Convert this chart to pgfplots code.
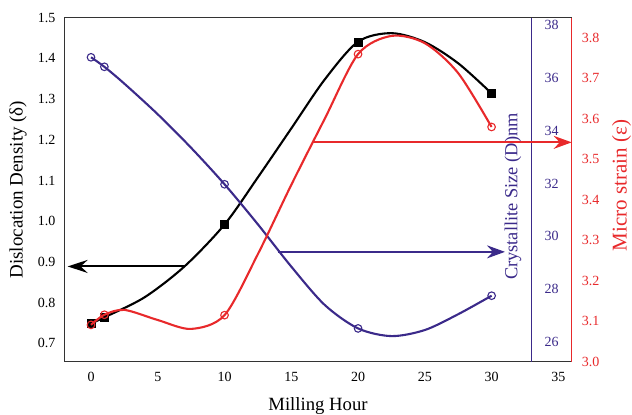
\documentclass[border=0pt]{standalone}
\usepackage{pgfplots}
\pgfplotsset{compat=1.18}
\usepackage{fontspec}
\setmainfont{Liberation Serif}
\usetikzlibrary{arrows.meta}
\definecolor{cblue}{HTML}{3B2A8A}
\definecolor{cred}{HTML}{E8292B}
\pgfplotsset{
  base/.style={
    scale only axis, width=507.4pt, height=344pt,
    xmin=-2, xmax=36, clip=false,
    major tick length=0pt, minor tick length=0pt,
    /pgf/number format/assume math mode=true,
    /pgf/number format/fixed, /pgf/number format/fixed zerofill,
    tick label style={font=\fontsize{14}{14}\selectfont},
  }
}
\begin{document}
\begin{tikzpicture}
\useasboundingbox (-64.3pt,-53.3pt) rectangle (567.7pt,361.7pt);
% ---------- left axis: dislocation density
\begin{axis}[base,
  ymin=0.655, ymax=1.5,
  axis line style={black!80, line width=1.2pt},
  xtick={0,5,...,35},
  xticklabel style={anchor=center, yshift=-15pt},
  xticklabel={\pgfmathprintnumber[fixed,precision=0]{\tick}},
  ytick={0.7,0.8,...,1.51},
  yticklabel style={anchor=center, xshift=-17.6pt, /pgf/number format/precision=1},
  xlabel={Milling Hour},
  xlabel style={at={(axis description cs:0.5,-0.129)}, anchor=center, font=\fontsize{18.7}{19}\selectfont},
  ylabel={Dislocation Density (δ)},
  ylabel style={at={(axis description cs:-0.0912,0.5)}, anchor=center, font=\fontsize{19}{19}\selectfont},
]
\addplot[black, line width=2.1pt, smooth, tension=0.5] coordinates {
  (0,0.749) (1,0.764) (4,0.813) (7,0.889) (10,0.992) (12.5,1.108) (15,1.228)
  (17.5,1.348) (20,1.441) (22.5,1.462) (25,1.440) (27.5,1.388) (30,1.314)};
\addplot[only marks, mark=square*, mark size=4pt, black] coordinates {
  (0,0.749) (1,0.764) (10,0.992) (20,1.441) (30,1.314)};
\addplot[black, line width=2pt, -{Stealth[length=20pt,width=13pt,inset=7pt]}] coordinates {
  (7,0.889) (-1.75,0.889)};
\end{axis}
% ---------- crystallite size axis
\begin{axis}[base,
  width=467.4pt, xmax=33,
  ymin=25.25, ymax=38.28,
  axis x line=none, axis y line*=right,
  axis line style={cblue, line width=1.4pt},
  ytick={26,28,...,38},
  yticklabel style={anchor=center, xshift=20pt, text=cblue, /pgf/number format/precision=0, /pgf/number format/fixed zerofill=false},
  ylabel={Crystallite Size (D)nm},
  ylabel style={at={(axis description cs:0.96,0.48)}, anchor=center, text=cblue, font=\fontsize{18.4}{18}\selectfont},
]
\addplot[cblue, line width=2.1pt, smooth, tension=0.5] coordinates {
  (0,36.78) (1,36.42) (2.5,35.78) (5,34.62) (7.5,33.35) (10,31.97) (12.5,30.45)
  (15,28.85) (17.5,27.40) (20,26.51) (22.5,26.22) (25,26.45) (27.5,27.05) (30,27.75)};
\addplot[only marks, mark=o, mark size=3.8pt, cblue, line width=1.1pt, mark options={fill=white}] coordinates {
  (0,36.78) (1,36.42) (10,31.97) (20,26.51) (30,27.75)};
\addplot[cblue, line width=2pt, -{Stealth[length=18pt,width=13pt,inset=6pt]}] coordinates {
  (14,29.41) (31,29.41)};
\end{axis}
% ---------- micro strain axis
\begin{axis}[base,
  ymin=3.0, ymax=3.850,
  axis x line=none, axis y line*=right,
  axis line style={cred, line width=1.4pt},
  ytick={3.0,3.1,...,3.81},
  yticklabel style={anchor=center, xshift=19pt, text=cred, /pgf/number format/precision=1},
  ylabel={Micro strain (ε)},
  ylabel style={at={(axis description cs:1.0985,0.512)}, anchor=center, text=cred, font=\fontsize{21}{21}\selectfont},
]
\addplot[cred, line width=2.1pt, smooth, tension=0.5] coordinates {
  (0,3.091) (1,3.116) (2.5,3.128) (5,3.103) (7.5,3.081) (10,3.115) (12.5,3.266)
  (15,3.437) (17.5,3.600) (20,3.760) (22.5,3.805) (25,3.787) (27.5,3.713) (30,3.580)};
\addplot[only marks, mark=o, mark size=3.8pt, cred, line width=1.1pt, mark options={fill=white}] coordinates {
  (0,3.091) (1,3.116) (10,3.115) (20,3.760) (30,3.580)};
\addplot[cred, line width=2pt, -{Stealth[length=18pt,width=13pt,inset=6pt]}] coordinates {
  (16.6,3.542) (36,3.542)};
\end{axis}
\end{tikzpicture}
\end{document}
